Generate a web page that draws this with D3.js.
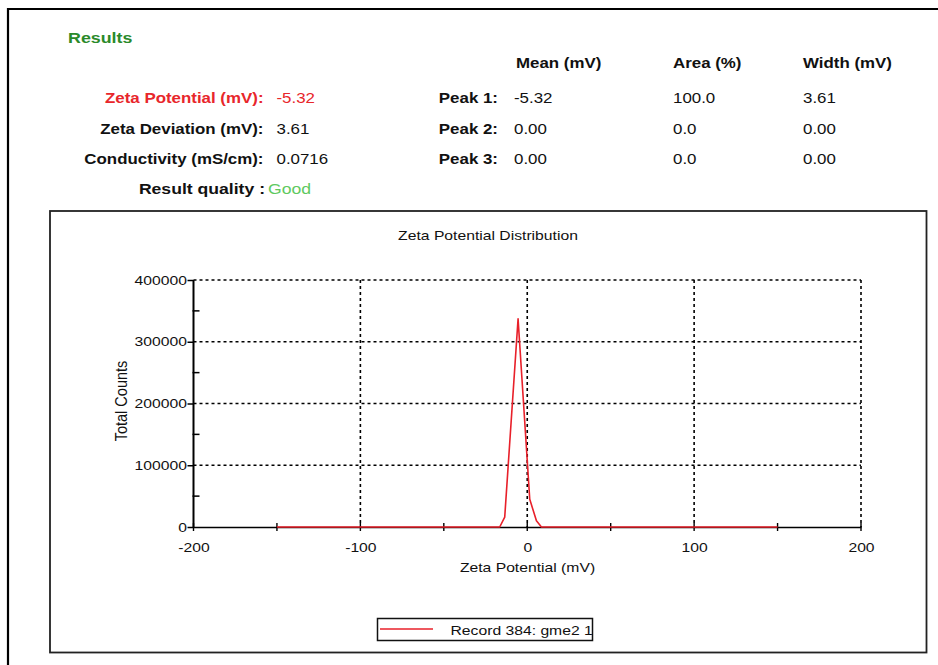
<!DOCTYPE html>
<html>
<head>
<meta charset="utf-8">
<script src="https://cdn.jsdelivr.net/npm/d3@7/dist/d3.min.js"></script>
<style>
html,body{margin:0;padding:0;background:#fff;}
svg{display:block;font-family:"Liberation Sans",Arial,sans-serif;}
</style>
</head>
<body>
<svg id="chart" width="938" height="665"></svg>
<script>
// ---------- data ----------
const zetaX = [-150, -16.5, -13.5, -5.5, 1.5, 5.5, 8.5, 150];          // mV
const totalCounts = [0, 0, 16000, 337000, 45000, 10000, 0, 0];           // counts
const xTickValues = [-200, -100, 0, 100, 200];
const xMinorTicks = [-200, -150, -100, -50, 0, 50, 100, 150, 200];
const yTickValues = [0, 100000, 200000, 300000, 400000];
const yMinorTicks = [50000, 150000, 250000, 350000];
const seriesName = "Record 384: gme2 1";

const summaryLabels = ["Zeta Potential (mV):", "Zeta Deviation (mV):", "Conductivity (mS/cm):"];
const summaryValues = ["-5.32", "3.61", "0.0716"];
const peakLabels = ["Peak 1:", "Peak 2:", "Peak 3:"];
const peakMeans = ["-5.32", "0.00", "0.00"];
const peakAreas = ["100.0", "0.0", "0.0"];
const peakWidths = ["3.61", "0.00", "0.00"];
const columnHeaders = ["Mean (mV)", "Area (%)", "Width (mV)"];
const qualityLabel = "Result quality :";
const qualityValue = "Good";

// ---------- helpers ----------
const SX = 1.19;
const svg = d3.select("#chart");
function txt(x, y, s, o = {}) {
  return svg.append("text")
    .attr("transform", `translate(${x},${y}) scale(${o.sx || SX},1)`)
    .attr("text-anchor", o.anchor || "start")
    .attr("font-size", o.size || 14.2)
    .attr("font-weight", o.bold ? "bold" : "normal")
    .attr("fill", o.fill || "#111")
    .text(s);
}
const plainFmt = d => String(d);

// ---------- frames ----------
svg.append("path").attr("d", "M8,700 L8,9 L960,9")
  .attr("fill", "none").attr("stroke", "#000").attr("stroke-width", 2.2);
svg.append("rect").attr("x", 50).attr("y", 211).attr("width", 876.5).attr("height", 441.5)
  .attr("fill", "none").attr("stroke", "#222").attr("stroke-width", 1.8);

// ---------- header ----------
txt(68, 43, "Results", {size: 15, bold: true, fill: "#2a8a2a"});
const colX = [516, 673, 803];
columnHeaders.forEach((h, i) => txt(colX[i], 67.5, h, {bold: true}));
const rowY = [103, 133.5, 164];
summaryLabels.forEach((l, i) => {
  txt(263.5, rowY[i], l, {bold: true, anchor: "end", fill: i === 0 ? "#e8262b" : "#111"});
  txt(276.5, rowY[i], summaryValues[i], {fill: i === 0 ? "#e8262b" : "#111"});
});
peakLabels.forEach((l, i) => {
  txt(498, rowY[i], l, {bold: true, anchor: "end"});
  txt(514, rowY[i], peakMeans[i]);
  txt(673, rowY[i], peakAreas[i]);
  txt(803, rowY[i], peakWidths[i]);
});
txt(265, 194, qualityLabel, {bold: true, anchor: "end", size: 14.8});
txt(268, 194, qualityValue, {fill: "#5ec95e", size: 14.8});

// ---------- chart ----------
const x = d3.scaleLinear().domain([-200, 200]).range([193.5, 861]);
const y = d3.scaleLinear().domain([0, 400000]).range([527, 280]);

txt(488, 240, "Zeta Potential Distribution", {size: 13.2, anchor: "middle"});

const grid = svg.append("g").attr("stroke", "#000").attr("stroke-width", 1.6)
  .attr("stroke-dasharray", "3,3").attr("fill", "none");
grid.selectAll("line.h").data(yTickValues.slice(1)).join("line").attr("class", "h")
  .attr("x1", x(-200)).attr("x2", x(200)).attr("y1", d => y(d)).attr("y2", d => y(d));
grid.selectAll("line.v").data(xTickValues.slice(1)).join("line").attr("class", "v")
  .attr("x1", d => x(d)).attr("x2", d => x(d)).attr("y1", y(400000)).attr("y2", y(0));

// y axis
const yAxis = svg.append("g").attr("transform", `translate(${x(-200)},0)`)
  .call(d3.axisLeft(y).tickValues(yTickValues).tickSize(6).tickPadding(0).tickFormat(plainFmt));
yAxis.select(".domain").attr("stroke-width", 2).attr("d", `M0,${y(400000)}V${y(0)}`);
yAxis.selectAll(".tick line").attr("stroke-width", 1.5);
yAxis.selectAll(".tick text").attr("font-size", 13.2).attr("fill", "#111")
  .attr("font-family", "Liberation Sans, Arial, sans-serif")
  .attr("x", -6.5 / SX).attr("transform", `scale(${SX},1)`);
svg.append("g").selectAll("line").data(yMinorTicks).join("line")
  .attr("x1", x(-200) - 1).attr("x2", x(-200) + 6).attr("y1", d => y(d)).attr("y2", d => y(d))
  .attr("stroke", "#000").attr("stroke-width", 1.5);

// x axis
const xAxis = svg.append("g").attr("transform", `translate(0,${y(0)})`)
  .call(d3.axisBottom(x).tickValues(xTickValues).tickSize(0).tickPadding(16).tickFormat(plainFmt));
xAxis.select(".domain").attr("stroke-width", 1.6);
xAxis.selectAll(".tick text").attr("font-size", 13.2).attr("fill", "#111")
  .attr("font-family", "Liberation Sans, Arial, sans-serif")
  .attr("transform", `scale(${SX},1)`).attr("x", 0).attr("dy", "0.71em");
svg.append("g").selectAll("line").data(xMinorTicks).join("line")
  .attr("x1", d => x(d)).attr("x2", d => x(d)).attr("y1", y(0) - 4).attr("y2", y(0) + 4)
  .attr("stroke", "#000").attr("stroke-width", 1.4);

txt(527.5, 571.5, "Zeta Potential (mV)", {size: 13.2, anchor: "middle"});
svg.append("text")
  .attr("transform", `translate(126.5,401) rotate(-90) scale(1.1,${SX})`)
  .attr("text-anchor", "middle").attr("font-size", 13.2).attr("fill", "#111")
  .text("Total Counts");

// series line
const pts = zetaX.map((v, i) => [v, totalCounts[i]]);
svg.append("path").datum(pts)
  .attr("fill", "none").attr("stroke", "#e8202a").attr("stroke-width", 1.6)
  .attr("stroke-linejoin", "round")
  .attr("d", d3.line().x(d => x(d[0])).y(d => y(d[1])));

// legend
svg.append("rect").attr("x", 377.5).attr("y", 618.5).attr("width", 215).attr("height", 22)
  .attr("fill", "#fff").attr("stroke", "#111").attr("stroke-width", 1.5);
svg.append("line").attr("x1", 380).attr("x2", 433).attr("y1", 629).attr("y2", 629)
  .attr("stroke", "#e8202a").attr("stroke-width", 1.5);
txt(450.5, 635, seriesName, {size: 13.2});
</script>
</body>
</html>
